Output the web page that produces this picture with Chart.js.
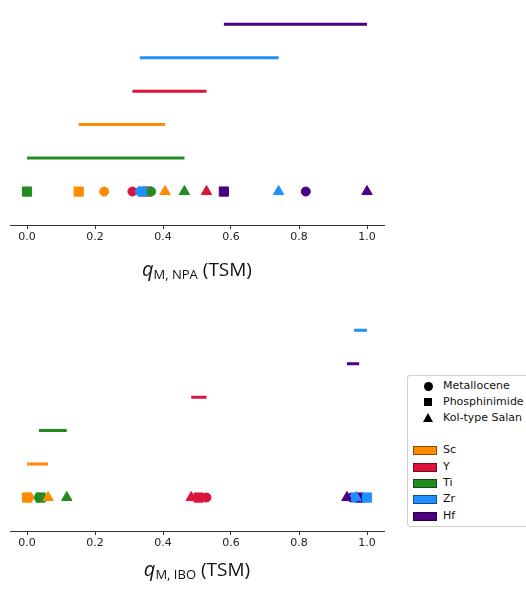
<!DOCTYPE html>
<html>
<head>
<meta charset="utf-8">
<script src="https://cdn.jsdelivr.net/npm/chart.js@4.4.1/dist/chart.umd.min.js"></script>
<style>
  body { margin: 0; width: 526px; height: 590px; overflow: hidden; background: #fff; position: relative; }
  canvas { position: absolute; left: 0; }
  #npa { top: 0; }
  #ibo { top: 306px; }
  .xt { position: absolute; left: 0; width: 394px; text-align: center; font: 19px "Open Sans"; line-height: 22px; color: #111; white-space: nowrap; }
  .xt i { font-size: 20px; }
  .xt .sub { font-size: 13px; vertical-align: -3px; }
  #legend { position: absolute; left: 407px; top: 375px; width: 130px; height: 150px; border: 1px solid #d0d0d0; border-radius: 3px; font: 11px "DejaVu Sans"; color: #111; }
  .row { position: absolute; left: 0; height: 14px; line-height: 14px; }
  .row span.t { position: absolute; left: 35px; top: 0; white-space: nowrap; }
  .mk { position: absolute; background: #000; }
  .patch { position: absolute; left: 5px; top: 3px; width: 22px; height: 7px; border: 1px solid rgba(0,0,0,0.45); }
</style>
</head>
<body>
<canvas id="npa" width="400" height="300"></canvas>
<canvas id="ibo" width="400" height="300"></canvas>
<div class="xt" style="top:258px"><i>q</i><span class="sub">M, NPA</span> (TSM)</div>
<div class="xt" style="top:558px"><i>q</i><span class="sub">M, IBO</span> (TSM)</div>
<div id="legend"></div>
<script>
const metals = ['Sc', 'Y', 'Ti', 'Zr', 'Hf'];
const metalColors = ['#ff8c00', '#dc143c', '#228b22', '#1e90ff', '#4b0082'];
const ligands = ['Metallocene', 'Phosphinimide', 'Kol-type Salan'];
const ligandStyles = ['circle', 'rect', 'triangle'];
const xTicks = [0.0, 0.2, 0.4, 0.6, 0.8, 1.0];

// q_M values per metal, in the order Sc, Y, Ti, Zr, Hf
const npaMetallocene = [0.227, 0.310, 0.365, 0.332, 0.820];
const npaPhosphinimide = [0.152, 0.353, 0.000, 0.341, 0.579];
const npaSalan = [0.406, 0.528, 0.463, 0.740, 1.000];

const iboMetallocene = [0.006, 0.528, 0.035, 0.962, 0.955];
const iboPhosphinimide = [0.000, 0.505, 0.040, 1.000, 0.977];
const iboSalan = [0.062, 0.483, 0.117, 0.968, 0.941];

const pointSizes = { circle: 4.5, rect: 6.5, triangle: 6 };
const paintLigands = [1, 0, 2];      // squares first, then circles, triangles on top
const paintMetals = [0, 1, 2, 4, 3];

function buildDatasets(byLigand) {
  const ds = [];
  // range lines, stacked by their lowest value
  const mins = metals.map((m, i) => Math.min(...byLigand.map(a => a[i])));
  const maxs = metals.map((m, i) => Math.max(...byLigand.map(a => a[i])));
  const rank = metals.map((m, i) => i).sort((a, b) => mins[a] - mins[b]);
  rank.forEach((mi, k) => {
    ds.push({
      type: 'scatter', showLine: true, pointRadius: 0,
      borderColor: metalColors[mi], borderWidth: 3,
      data: [{ x: mins[mi], y: k + 1 }, { x: maxs[mi], y: k + 1 }]
    });
  });
  paintLigands.forEach(li => {
    paintMetals.forEach(mi => {
      const st = ligandStyles[li];
      ds.push({
        type: 'scatter',
        pointStyle: st, pointRadius: pointSizes[st],
        backgroundColor: metalColors[mi], borderColor: metalColors[mi], borderWidth: 1,
        data: [{ x: byLigand[li][mi], y: 0 }]
      });
    });
  });
  return ds.reverse(); // Chart.js draws the first dataset on top
}

function makeChart(id, byLigand) {
  return new Chart(document.getElementById(id), {
    type: 'scatter',
    data: { datasets: buildDatasets(byLigand) },
    options: {
      responsive: false, animation: false, devicePixelRatio: 1,
      layout: { padding: { left: 10, right: 16, top: 4, bottom: 0 } },
      plugins: { legend: { display: false }, tooltip: { enabled: false } },
      scales: {
        x: {
          type: 'linear', min: -0.05, max: 1.05,
          afterBuildTicks: s => { s.ticks = xTicks.map(v => ({ value: v })); },
          afterFit: s => { s.height = 75; },
          ticks: { callback: v => v.toFixed(1), color: '#222', padding: 2, font: { family: 'DejaVu Sans', size: 11 } },
          grid: { drawOnChartArea: false, drawTicks: true, tickLength: 4, color: '#333' },
          border: { display: true, color: '#333', width: 1 }
        },
        y: { display: false, min: -1, max: 5.5 }
      }
    }
  });
}

makeChart('npa', [npaMetallocene, npaPhosphinimide, npaSalan]);
makeChart('ibo', [iboMetallocene, iboPhosphinimide, iboSalan]);

// legend
const legend = document.getElementById('legend');
const rowTops = [3, 19, 35, 67, 84, 100, 116, 133];
ligands.forEach((name, i) => {
  const row = document.createElement('div');
  row.className = 'row';
  row.style.top = rowTops[i] + 'px';
  const mk = document.createElement('div');
  mk.className = 'mk';
  if (ligandStyles[i] === 'circle') {
    Object.assign(mk.style, { left: '16px', top: '3px', width: '9px', height: '9px', borderRadius: '50%' });
  } else if (ligandStyles[i] === 'rect') {
    Object.assign(mk.style, { left: '16px', top: '3px', width: '8px', height: '8px' });
  } else {
    Object.assign(mk.style, { left: '15px', top: '2px', width: '0', height: '0', background: 'none',
      borderLeft: '5px solid transparent', borderRight: '5px solid transparent', borderBottom: '9px solid #000' });
  }
  row.appendChild(mk);
  const t = document.createElement('span');
  t.className = 't'; t.textContent = name;
  row.appendChild(t);
  legend.appendChild(row);
});
metals.forEach((name, i) => {
  const row = document.createElement('div');
  row.className = 'row';
  row.style.top = rowTops[3 + i] + 'px';
  const p = document.createElement('div');
  p.className = 'patch';
  p.style.background = metalColors[i];
  row.appendChild(p);
  const t = document.createElement('span');
  t.className = 't'; t.textContent = name;
  row.appendChild(t);
  legend.appendChild(row);
});
</script>
</body>
</html>
